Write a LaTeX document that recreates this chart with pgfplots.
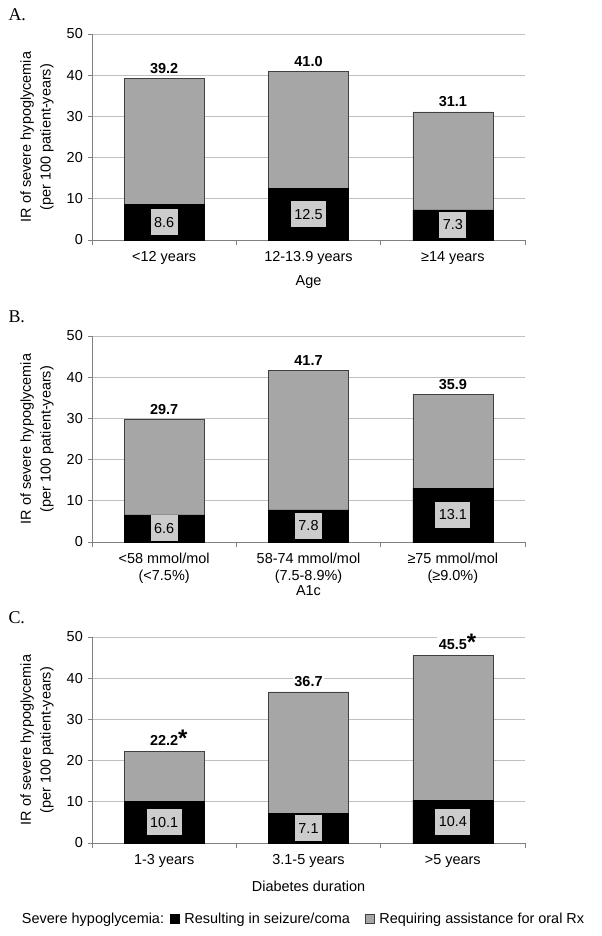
\documentclass[border=0pt]{standalone}
\usepackage{pgfplots}
\pgfplotsset{compat=1.18}
\usepackage{pgfplotstable}
\usepackage{fontspec}
\setmainfont{Liberation Sans}
\newfontfamily\seriffont{Liberation Serif}
\definecolor{barg}{HTML}{A6A6A6}
\definecolor{boxg}{HTML}{CCCCCC}
\definecolor{gridg}{HTML}{C0C0C0}
\definecolor{axg}{HTML}{808080}
\newcommand\sig{\rlap{\raisebox{-1.5bp}{\fontsize{24}{24}\selectfont*}}}

\pgfplotstableread{
x seiz total lab
0 8.6 39.2 39.2
1 12.5 41.0 41.0
2 7.3 31.1 31.1
}\dataA
\pgfplotstableread{
x seiz total lab
0 6.6 29.7 29.7
1 7.8 41.7 41.7
2 13.1 35.9 35.9
}\dataB
\pgfplotstableread{
x seiz total lab
0 10.1 22.2 {22.2\sig}
1 7.1 36.7 36.7
2 10.4 45.5 {45.5\sig}
}\dataC

\pgfplotsset{
  panel/.style={
    scale only axis, width=433bp, height=206bp,
    xmin=-0.5, xmax=2.5, ymin=0, ymax=50,
    ytick={0,10,...,50},
    xtick={0,1,2},
    minor xtick={-0.5,0.5,1.5,2.5},
    axis x line*=bottom, axis y line*=left,
    axis line style={axg, line width=0.8bp},
    tick style={axg, line width=0.8bp},
    major x tick style={draw=none},
    tick align=outside,
    major tick length=4bp, minor tick length=5bp,
    ymajorgrids, grid style={gridg, line width=0.8bp},
    /pgf/number format/assume math mode=true,
    tick label style={font=\fontsize{14.5}{17}\selectfont},
    label style={font=\fontsize{14.5}{20}\selectfont},
    yticklabel style={anchor=east, inner sep=0pt, xshift=-5bp},
    xticklabel style={align=center, anchor=north, inner sep=0pt, yshift=-7bp},
    ylabel={IR of severe hypoglycemia\\(per 100 patient-years)},
    ylabel style={align=center, at={(axis description cs:-0.127,0.5)}, anchor=center},
    xlabel style={at={(axis description cs:0.5,0)}, anchor=center},
    ybar, bar width=80bp,
    clip=false,
  },
  totbar/.style={fill=barg, draw=black!75, line width=0.6bp, bar shift=0pt,
    nodes near coords, point meta=explicit symbolic,
    nodes near coords style={font=\bfseries\fontsize{14.5}{17}\selectfont, fill=white, inner sep=1.5bp, anchor=south, yshift=3bp}},
  seizbar/.style={fill=black, draw=black, line width=0.6bp, bar shift=0pt,
    nodes near coords, point meta=explicit symbolic,
    visualization depends on={rawy \as \sz},
    nodes near coords style={font=\fontsize{14.5}{17}\selectfont, fill=boxg, inner xsep=3.5bp, inner ysep=0bp, minimum height=26bp, anchor=center, yshift={-\sz*2.06bp}}},
}

\begin{document}
\begin{tikzpicture}
\path[use as bounding box] (0,0) rectangle (602bp,-936bp);

\node[font=\seriffont\fontsize{18}{18}\selectfont, anchor=west] at (5bp,-15bp) {A.};
\node[font=\seriffont\fontsize{18}{18}\selectfont, anchor=west] at (5bp,-317bp) {B.};
\node[font=\seriffont\fontsize{18}{18}\selectfont, anchor=west] at (5bp,-618bp) {C.};

\begin{axis}[panel, at={(92bp,-240bp)}, anchor=south west,
  xticklabels={{<12 years},{12-13.9 years},{≥14 years}},
  xlabel={Age}, xlabel style={yshift=-42bp}]
\addplot[totbar] table[x=x, y=total, meta=lab] {\dataA};
\addplot[seizbar] table[x=x, y=seiz, meta=seiz] {\dataA};
\end{axis}

\begin{axis}[panel, at={(92bp,-542bp)}, anchor=south west,
  xticklabels={{<58 mmol/mol\\(<7.5\%)},{58-74 mmol/mol\\(7.5-8.9\%)},{≥75 mmol/mol\\(≥9.0\%)}},
  xlabel={A1c}, xlabel style={yshift=-49bp}]
\addplot[totbar] table[x=x, y=total, meta=lab] {\dataB};
\addplot[seizbar] table[x=x, y=seiz, meta=seiz] {\dataB};
\end{axis}

\begin{axis}[panel, at={(92bp,-843bp)}, anchor=south west,
  xticklabels={{1-3 years},{3.1-5 years},{>5 years}},
  xlabel={Diabetes duration}, xlabel style={yshift=-43bp},
  legend style={draw=none, fill=none, at={(axis description cs:0.484,-0.369)}, anchor=center,
    legend columns=3, font=\fontsize{14.5}{17}\selectfont,
    /tikz/every odd column/.append style={column sep=3bp},
    /tikz/every even column/.append style={column sep=13bp}}]
\addplot[totbar, forget plot] table[x=x, y=total, meta=lab] {\dataC};
\addplot[seizbar, forget plot] table[x=x, y=seiz, meta=seiz] {\dataC};
\addlegendimage{empty legend}
\addlegendentry{Severe hypoglycemia:\kern-9bp}
\addlegendimage{legend image code/.code={\fill[black] (0bp,-4.5bp) rectangle (9bp,4.5bp);}}
\addlegendentry{Resulting in seizure/coma}
\addlegendimage{legend image code/.code={\filldraw[fill=barg, draw=black!75, line width=0.6bp] (0bp,-4.5bp) rectangle (9bp,4.5bp);}}
\addlegendentry{Requiring assistance for oral Rx}
\end{axis}
\end{tikzpicture}
\end{document}
